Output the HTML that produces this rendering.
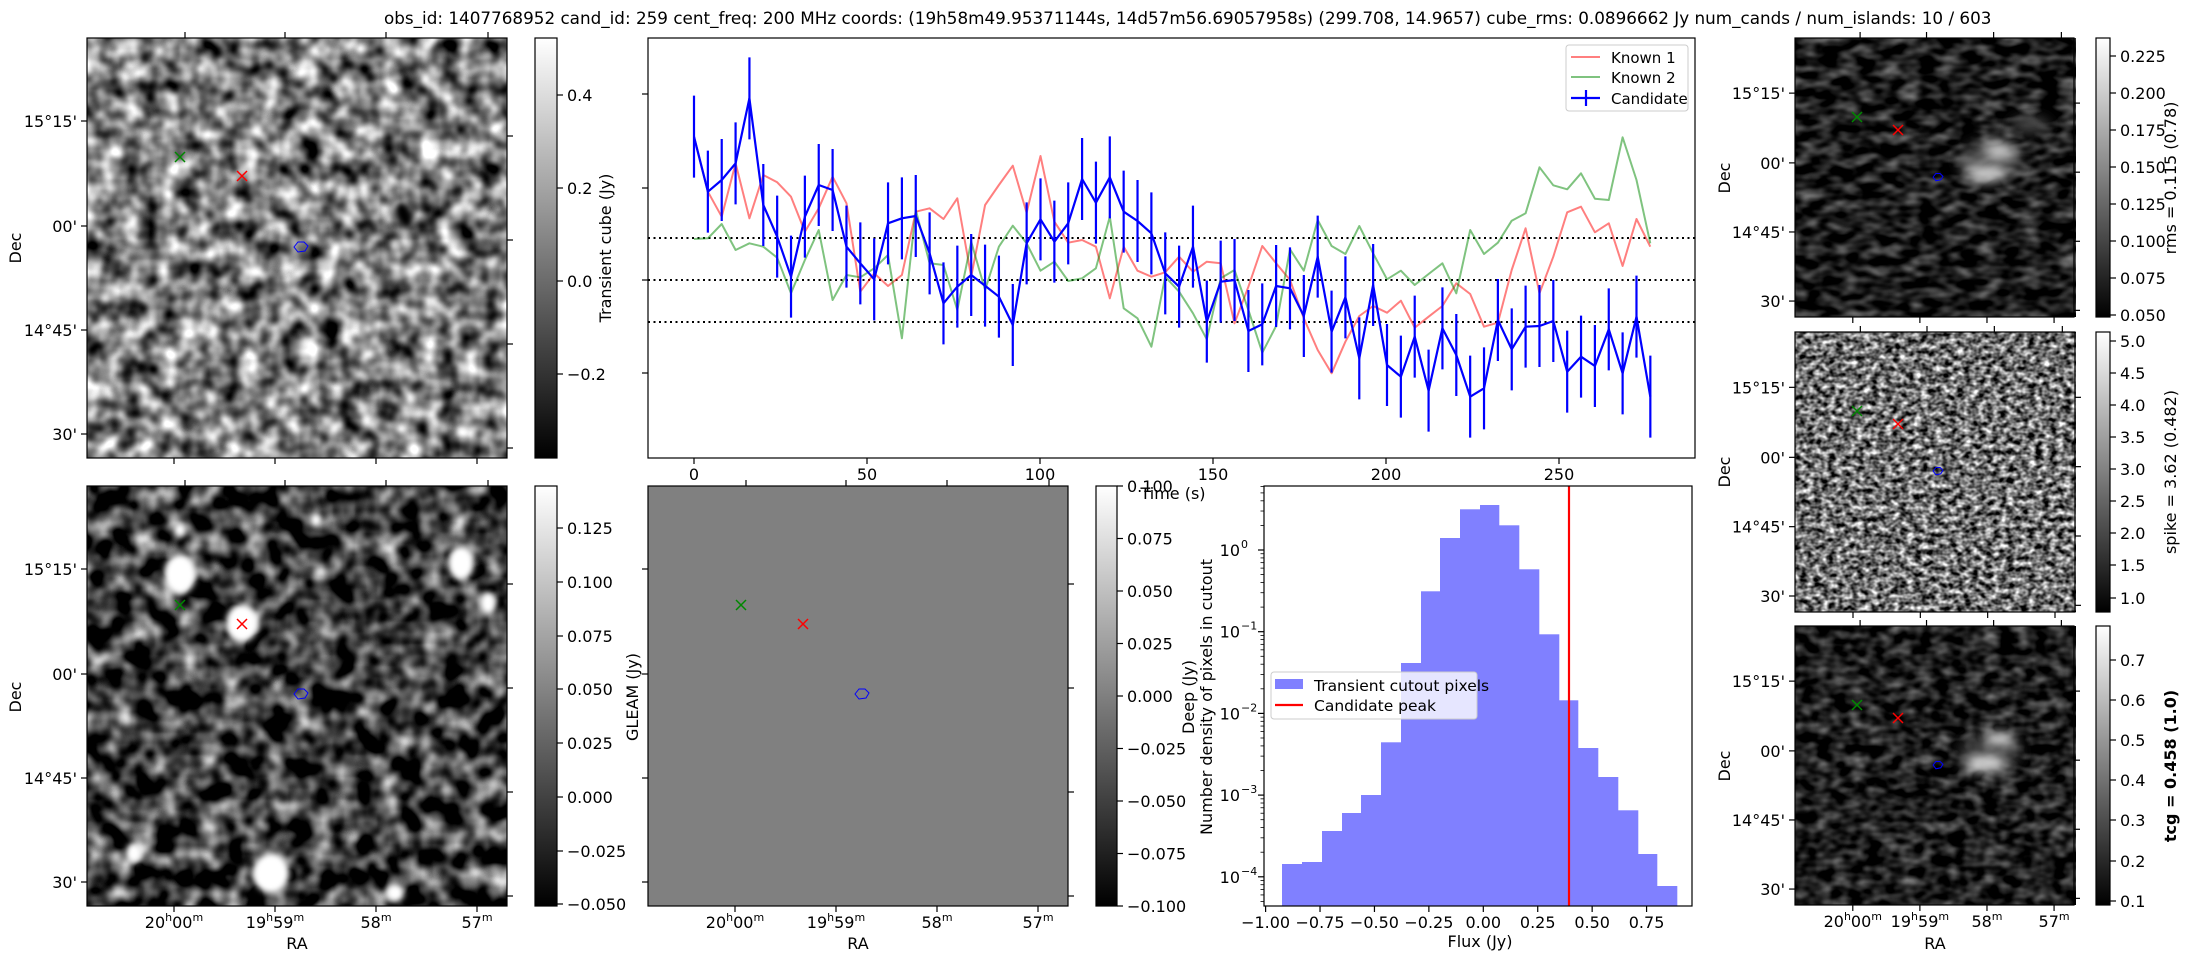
<!DOCTYPE html>
<html><head><meta charset="utf-8">
<style>
html,body{margin:0;padding:0;background:#fff;}
svg{display:block;font-family:"DejaVu Sans","Liberation Sans",sans-serif;}
</style></head>
<body>
<svg id="s" xmlns="http://www.w3.org/2000/svg" width="2188" height="960" viewBox="0 0 2188 960">
<defs>
<linearGradient id="cb" x1="0" y1="1" x2="0" y2="0"><stop offset="0" stop-color="#000"/><stop offset="1" stop-color="#fff"/></linearGradient>
<filter id="fA" color-interpolation-filters="sRGB" filterUnits="userSpaceOnUse" x="87" y="38" width="420" height="420">
<feTurbulence type="fractalNoise" baseFrequency="0.05" numOctaves="2" seed="3"/>
<feColorMatrix type="matrix" values="1.7 0 0 0 -0.35  1.7 0 0 0 -0.35  1.7 0 0 0 -0.35  0 0 0 0 1"/></filter>
<filter id="fB" color-interpolation-filters="sRGB" filterUnits="userSpaceOnUse" x="87" y="486" width="420" height="420">
<feTurbulence type="fractalNoise" baseFrequency="0.045" numOctaves="2" seed="7"/>
<feColorMatrix type="matrix" values="1.8 0 0 0 -0.66  1.8 0 0 0 -0.66  1.8 0 0 0 -0.66  0 0 0 0 1"/></filter>
<filter id="fR1" color-interpolation-filters="sRGB" filterUnits="userSpaceOnUse" x="1795" y="38" width="281" height="279">
<feTurbulence type="fractalNoise" baseFrequency="0.05 0.09" numOctaves="2" seed="11"/>
<feColorMatrix type="matrix" values="0.9 0 0 0 -0.34  0.9 0 0 0 -0.34  0.9 0 0 0 -0.34  0 0 0 0 1"/></filter>
<filter id="fR2" color-interpolation-filters="sRGB" filterUnits="userSpaceOnUse" x="1795" y="332" width="281" height="280">
<feTurbulence type="fractalNoise" baseFrequency="0.14 0.18" numOctaves="2" seed="5"/>
<feColorMatrix type="matrix" values="1.8 0 0 0 -0.46  1.8 0 0 0 -0.46  1.8 0 0 0 -0.46  0 0 0 0 1"/></filter>
<filter id="fR3" color-interpolation-filters="sRGB" filterUnits="userSpaceOnUse" x="1795" y="626" width="281" height="279">
<feTurbulence type="fractalNoise" baseFrequency="0.06 0.09" numOctaves="2" seed="13"/>
<feColorMatrix type="matrix" values="0.9 0 0 0 -0.33  0.9 0 0 0 -0.33  0.9 0 0 0 -0.33  0 0 0 0 1"/></filter>
<filter id="bl" x="-50%" y="-50%" width="200%" height="200%"><feGaussianBlur stdDeviation="3"/></filter>
<filter id="bl2" x="-50%" y="-50%" width="200%" height="200%"><feGaussianBlur stdDeviation="6"/></filter>
</defs>
<g id="g"></g>
</svg>
<script>
var o='';
function L(x1,y1,x2,y2,c,w,extra){o+='<line x1="'+x1+'" y1="'+y1+'" x2="'+x2+'" y2="'+y2+'" stroke="'+(c||'#000')+'" stroke-width="'+(w||1.2)+'" '+(extra||'')+'/>';}
function T(x,y,s,anch,fs,extra){o+='<text x="'+x+'" y="'+y+'" font-size="'+(fs||16)+'" text-anchor="'+(anch||'middle')+'" '+(extra||'')+'>'+s+'</text>';}
function R(x,y,w,h,f,extra){o+='<rect x="'+x+'" y="'+y+'" width="'+w+'" height="'+h+'" fill="'+f+'" '+(extra||'')+'/>';}
function box(x,y,w,h){R(x,y,w,h,'none','stroke="#000" stroke-width="1.2"');}
function X(x,y,c){L(x-5,y-5,x+5,y+5,c,1.5);L(x-5,y+5,x+5,y-5,c,1.5);}
function cont(x,y,s){o+='<path d="M'+(x-7*s)+','+(y)+' l'+(4*s)+',-'+(5*s)+' l'+(6*s)+',0 l'+(4*s)+','+(4*s)+' l-'+(3*s)+','+(5*s)+' l-'+(7*s)+',1 z" fill="none" stroke="#00f" stroke-width="1"/>';}
function ylab(x,y,s,extra){o+='<text x="'+x+'" y="'+y+'" font-size="16" text-anchor="middle" transform="rotate(-90 '+x+' '+y+')" '+(extra||'')+'>'+s+'</text>';}
function ra(h,m){var sup='<tspan font-size="11" dy="-7">';return h?(h+sup+'h</tspan><tspan dy="7">'+m+'</tspan>'+sup+'m</tspan>'):(m+sup+'m</tspan>');}
var RAL=[ra('20','00'),ra('19','59'),ra('','58'),ra('','57')];
function cbar(x,y,w,h,ticks){R(x,y,w,h,'url(#cb)');box(x,y,w,h);ticks.forEach(function(t){L(x+w,t[1],x+w+6,t[1]);T(x+w+10,t[1]+6,t[0],'start');});}
function imgAxes(x0,y0,sz,decLabels,raLabels){
 var k=sz/420;
 var dy=[83,188,292,396], ry=[98,202,306,410], tx=[98,198,299,401], bx=[87,188,289,390];
 var dl=["15°15'","00'","14°45'","30'"];
 for(var i=0;i<4;i++){
  var yy=y0+dy[i]*k; L(x0-6,yy,x0,yy); if(decLabels) T(x0-4-6,yy+6,dl[i],'end');
  L(x0+sz,y0+ry[i]*k,x0+sz+6,y0+ry[i]*k);
  L(x0+tx[i]*k,y0-6,x0+tx[i]*k,y0);
  var xx=x0+bx[i]*k; L(xx,y0+sz,xx,y0+sz+6);
  if(raLabels) T(xx,y0+sz+22,RAL[i],'middle');
 }
 box(x0,y0,sz,sz);
}
T(384,24,'obs_id: 1407768952 cand_id: 259 cent_freq: 200 MHz coords: (19h58m49.95371144s, 14d57m56.69057958s) (299.708, 14.9657) cube_rms: 0.0896662 Jy num_cands / num_islands: 10 / 603','start',16.8);

// P1 transient
R(87,38,420,420,'#808080','filter="url(#fA)"');
o+='<ellipse cx="404" cy="215" rx="7" ry="13" fill="#000" transform="rotate(-20 404 215)" filter="url(#bl)"/>';
o+='<ellipse cx="395" cy="245" rx="5" ry="6" fill="#ddd" filter="url(#bl)"/>';
X(180,157,'#080');X(242,176,'#f00');cont(301,247,1);
imgAxes(87,38,420,true,false);
cbar(535,38,22,420,[['0.4',95],['0.2',188],['0.0',281],['−0.2',374]]);
ylab(611,248,'Transient cube (Jy)');
ylab(21,248,'Dec');

// P2 deep
R(87,486,420,420,'#404040','filter="url(#fB)"');
[[180,574,16,20],[242,623,16,19],[461,563,13,17],[488,603,8,11],[271,873,18,20],[134,853,8,10],[395,893,9,9],[180,530,6,7],[316,520,6,7]].forEach(function(b){o+='<ellipse cx="'+b[0]+'" cy="'+b[1]+'" rx="'+b[2]+'" ry="'+b[3]+'" fill="#fff" filter="url(#bl)"/>';});
X(180,605,'#080');X(242,624,'#f00');cont(301,694,1);
imgAxes(87,486,420,true,true);
cbar(535,486,22,420,[['0.125',528],['0.100',582],['0.075',636],['0.050',689],['0.025',743],['0.000',797],['−0.025',851],['−0.050',904]]);
T(297,949,'RA');
ylab(21,697,'Dec');

// P3 GLEAM
R(648,486,420,420,'#808080');
X(741,605,'#080');X(803,624,'#f00');cont(862,694,1);
imgAxes(648,486,420,false,true);
cbar(1096,486,21,420,[['0.100',486],['0.075',538.5],['0.050',591],['0.025',643.5],['0.000',696],['−0.025',748.5],['−0.050',801],['−0.075',853.5],['−0.100',906]]);
T(858,949,'RA');
ylab(638,697,'GLEAM (Jy)');
ylab(1194,697,'Deep (Jy)');

// P4 light curve
var ax0=648,ay0=38,aw=1047,ah=420;
function tx(i){return 694+i*13.86;}
var b1=[350,515,480,430,235,555,650,770,590,495,510,680,730,778,610,595,588,700,850,800,765,797,830,915,670,598,665,610,477,548,472,575,603,640,760,800,680];
var b2=[875,755,750,903,883,768,775,858,680,905,802,985,765,1005,1040,920,1082,895,975,1100,1075,870,958,890,888,873,1025,980,1008,898,1030,860,1100];
var r1=[350,515,590,430,595,465,487,530,635,565,470,550,815,760,798,765,575,565,597,535,770,555,495,437,578,408,605,668,660,680,835,680,752,770,757,710,755];
var r2=[695,700,880,770,648,700,750,865,960,1030,935,858,828,848,812,893,860,828,760,792,890,878,720,595,790,680,547,530,607,580,708,567,650];
var g1=[657,655,612,690,670,680,713,820,720,630,840,765,772,745,705,955,570,730,735,870,665,810,680,617,670,752,725,783,775,745,590,865,895,980,770,815,880];
var g2=[928,745,720,840,968,888,658,722,570,648,672,588,670,748,722,765,732,700,790,600,672,638,572,550,412,466,478,430,506,510,322,450,640];
function ys(a,b){return a.map(function(v){return 20+v/3;}).concat(b.map(function(v){return 30+v/3;}));}
var B=ys(b1,b2),Rd=ys(r1,r2),G=ys(g1,g2);
function pl(arr,c,w,op){var d='';arr.forEach(function(v,i){d+=(i?'L':'M')+tx(i).toFixed(1)+','+v.toFixed(1);});o+='<path d="'+d+'" fill="none" stroke="'+c+'" stroke-width="'+w+'" stroke-opacity="'+op+'" stroke-linejoin="round"/>';}
[238,280,322].forEach(function(y){L(ax0,y,ax0+aw,y,'#000',2,'stroke-dasharray="2,3.5"');});
pl(Rd,'#f00',2,0.5);pl(G,'#080',2,0.5);
B.forEach(function(v,i){L(tx(i),v-41,tx(i),v+41,'#00f',2.2);});
pl(B,'#00f',2.2,1);
box(ax0,ay0,aw,ah);
[94,188,280,373].forEach(function(y){L(ax0-6,y,ax0,y);});
for(var k=0;k<6;k++){var xx=694+k*173;L(xx,458,xx,464);T(xx,480,String(k*50));}
T(1173,499,'Time (s)');
R(1566,45,122,66,'#fff','fill-opacity="0.8" stroke="#ccc" stroke-width="1" rx="3"');
L(1571,57,1600,57,'#f00',2,'stroke-opacity="0.5"');L(1571,77,1600,77,'#080',2,'stroke-opacity="0.5"');
L(1571,98,1600,98,'#00f',2.2);L(1586,90,1586,106,'#00f',2.2);
T(1611,63,'Known 1','start',15);T(1611,83,'Known 2','start',15);T(1611,104,'Candidate','start',15);

// P5 histogram
var hx0=1264,hy0=486,hw=428,hh=420;
var ed=[336,396,456,516,573,633,693,753,810,870,930,987,1047,1107,1167,1224,1284,1344,1404,1461,1521];
var tp=[1182,1176,1083,1029,975,817,579,364,204,118,105,166,298,493,691,834,921,1021,1152,1248];
o+='<clipPath id="hc"><rect x="'+hx0+'" y="'+hy0+'" width="'+hw+'" height="'+hh+'"/></clipPath><g clip-path="url(#hc)">';
for(var i=0;i<20;i++){var xa=1170+ed[i]/3,xb=1170+ed[i+1]/3,yt=470+tp[i]/3;R(xa.toFixed(1),yt.toFixed(1),(xb-xa+0.3).toFixed(1),(906-yt).toFixed(1),'#8080ff');}
L(1569,hy0,1569,906,'#f00',2.2);
o+='</g>';
box(hx0,hy0,hw,hh);
for(var k=0;k<8;k++){var v=-1+k*0.25,xx=1483.3+v*217.7;L(xx,906,xx,912);T(xx,928,(v<0?'−':'')+Math.abs(v).toFixed(2));}
T(1480,947,'Flux (Jy)');
for(var e=0;e<=4;e++){var yy=550+e*81.7;L(hx0-6,yy,hx0,yy);T(hx0-24,yy+6,'10','end');o+='<text x="'+(hx0-23)+'" y="'+(yy-2)+'" font-size="11" text-anchor="start">'+(e?'−'+e:'0')+'</text>';
 for(var m=2;m<10;m++){var my=yy+81.7-Math.log10(m)*81.7; if(my<906&&my>486)L(hx0-3.5,my,hx0,my,'#000',0.8);} }
for(var m=2;m<10;m++){var my=550-Math.log10(m)*81.7; if(my>486)L(hx0-3.5,my,hx0,my,'#000',0.8);}
ylab(1212,697,'Number density of pixels in cutout');
R(1271,672,206,47,'#fff','fill-opacity="0.8" stroke="#ccc" stroke-width="1" rx="3"');
R(1275,679,28,10,'#8080ff');L(1275,705,1303,705,'#f00',2.2);
T(1314,691,'Transient cutout pixels','start',15.5);T(1314,711,'Candidate peak','start',15.5);

// Right column
function rp(y0,f,bright){
 R(1795,y0,281,bright?279:280,bright?'#222':'#808080','filter="url(#'+f+')"');
}
rp(38,'fR1',true);
o+='<g filter="url(#bl2)"><ellipse cx="1990" cy="160" rx="32" ry="20" fill="#555" opacity="0.7"/><ellipse cx="1985" cy="175" rx="20" ry="6" fill="#fff"/><ellipse cx="2000" cy="150" rx="16" ry="6" fill="#eee"/><ellipse cx="2030" cy="125" rx="20" ry="8" fill="#444"/></g>';
X(1857,117,'#080');X(1898,130,'#f00');cont(1938,177,0.7);
imgAxes(1795,38,279,true,false);
cbar(2096,38,14,279,[['0.225',56],['0.200',93],['0.175',130],['0.150',167],['0.125',204],['0.100',241],['0.075',278],['0.050',315]]);
ylab(2176,178,'rms = 0.115 (0.78)');
ylab(1730,178,'Dec');

rp(332,'fR2',false);
X(1857,411,'#080');X(1898,424,'#f00');cont(1938,471,0.7);
imgAxes(1795,332,280,true,false);
cbar(2096,332,14,280,[['5.0',341],['4.5',373],['4.0',405],['3.5',437],['3.0',469],['2.5',501],['2.0',533],['1.5',565],['1.0',598]]);
ylab(2176,472,'spike = 3.62 (0.482)');
ylab(1730,472,'Dec');

rp(626,'fR3',true);
o+='<g filter="url(#bl2)"><ellipse cx="1990" cy="752" rx="32" ry="20" fill="#444" opacity="0.7"/><ellipse cx="1985" cy="765" rx="20" ry="6" fill="#fff"/><ellipse cx="2000" cy="738" rx="14" ry="5" fill="#eee"/></g>';
X(1857,705,'#080');X(1898,718,'#f00');cont(1938,765,0.7);
imgAxes(1795,626,279,true,true);
cbar(2096,626,14,279,[['0.7',660],['0.6',700],['0.5',740],['0.4',780],['0.3',820],['0.2',861],['0.1',901]]);
ylab(2176,766,'tcg = 0.458 (1.0)','font-weight="bold"');
ylab(1730,766,'Dec');
T(1935,949,'RA');

document.getElementById('g').innerHTML=o;
</script>
</body></html>
